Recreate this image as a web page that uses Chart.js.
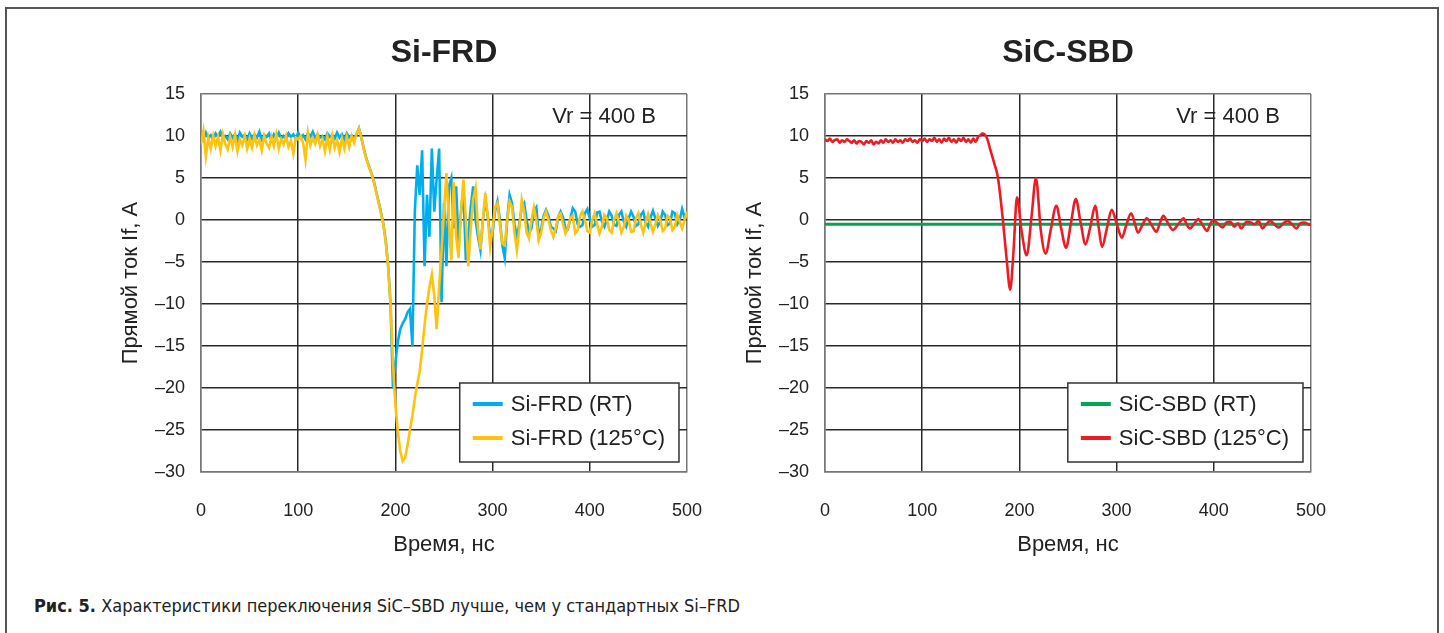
<!DOCTYPE html>
<html lang="ru">
<head>
<meta charset="utf-8">
<title>Si-FRD vs SiC-SBD</title>
<script src="https://cdn.jsdelivr.net/npm/chart.js"></script>
<style>
  html, body { margin: 0; padding: 0; background: #fff; }
  body { width: 1444px; height: 633px; position: relative; overflow: hidden; }
  .frame { position: absolute; left: 5px; top: 7px; width: 1434px; height: 700px; border: 2px solid #555; box-sizing: border-box; }
  .chart { position: absolute; top: 0; }
  #frdBox { left: 0; }
  #sbdBox { left: 624px; }
  .caption { position: absolute; left: 34px; top: 595px; font-family: "Liberation Sans Narrow", "DejaVu Sans Condensed", "Liberation Sans", sans-serif; font-size: 18px; color: #222; white-space: nowrap; }
  .caption b { font-weight: 700; }
</style>
</head>
<body>
<div class="frame"></div>
<div class="chart" id="frdBox"><canvas id="frdChart" width="730" height="572"></canvas></div>
<div class="chart" id="sbdBox"><canvas id="sbdChart" width="730" height="572"></canvas></div>
<div class="caption"><b>Рис. 5.</b> Характеристики переключения SiC–SBD лучше, чем у стандартных Si–FRD</div>
<script>
// time grid for the Si-FRD scope traces, 2.5 ns per sample
const frdTime = Array.from({ length: 201 }, (_, i) => i * 2.5);

// Si-FRD (RT), A
const frdRT = [
  10.2, 9.6, 10.4, 9.8, 10.1, 9.5, 10.3, 9.9, 10.5, 9.7, 10.0, 9.6, 10.3, 9.8, 10.2, 9.5, 10.4, 9.9, 10.1, 9.6,
  10.3, 9.7, 10.2, 9.8, 10.5, 9.6, 10.1, 9.9, 10.3, 9.5, 10.2, 9.8, 10.4, 9.7, 10.0, 9.6, 10.3, 9.9, 10.2, 9.7,
  10.4, 9.8, 10.1, 9.6, 10.3, 9.9, 10.5, 9.7, 10.2, 9.8, 10.0, 9.6, 10.3, 9.9, 10.1, 9.7, 10.4, 9.8, 10.2, 9.6,
  10.3, 9.8, 10.1, 9.7, 10.2, 10.9, 9.8, 8.5, 7.4, 6.5, 5.7, 4.8, 3.5, 2.3, 1.0, -0.4, -2.4, -5.4, -10, -20,
  -17, -14.5, -13, -12.3, -11.8, -11, -10.6, -15, 1, 6.5, 3, 8.3, -5.5, 3, -2, 8.5, 1, 5, 8.5, -9.8,
  2, -5.5, 4, 5, -1, 4, -3, 1, 3.5, -4.8, -2, 1.5, 4, 0, -2, -3.6, 0, 2.4, 0.5, -2,
  -1.5, 1, 2.2, 0, -3, -4.5, 0, 3, 2, -0.5, -2, -0.5, 1.5, 2, 0, -1.5, -1, 1, 1.5, -2,
  -1, 0.5, 1.2, 0.5, -0.8, -1, -1.3, 0.3, 1, 0.3, -1, -1.1, 0.2, 1.4, 1, -0.5, -0.8, -0.6, 0.8, 1.3,
  0.2, -0.8, -0.6, 0.9, 1, -0.2, -0.8, 0, 1, 0.5, -0.6, -0.7, 0.6, 1, -0.2, -0.8, 0.2, 1, 0.4, -0.7,
  -0.5, 0.6, 1, -0.3, -0.8, 0.3, 1.1, 0.2, -0.7, -0.2, 1, 0.6, -0.6, -0.4, 1, 0.8, -0.5, 0, 1.3, 0.3, 0.5
];

// Si-FRD (125°C), A
const frd125 = [
  9.0, 10.6, 7.6, 9.8, 8.5, 10.0, 8.8, 9.9, 8.3, 10.2, 9.0, 8.4, 9.9, 8.7, 10.1, 8.2, 9.6, 8.9, 10.0, 8.5,
  9.7, 8.6, 10.1, 8.9, 9.5, 8.3, 10.0, 9.1, 8.6, 9.9, 8.8, 10.2, 8.5, 9.6, 9.0, 10.0, 8.7, 9.4, 7.9, 9.8,
  9.6, 10.0, 9.2, 7.2, 10.4, 8.9, 9.8, 9.1, 10.2, 8.8, 9.6, 8.2, 9.9, 8.4, 10.1, 8.6, 9.5, 8.1, 9.7, 8.5,
  9.9, 8.7, 10.0, 9.2, 10.3, 10.9, 9.8, 8.4, 7.3, 6.4, 5.6, 4.7, 3.4, 2.2, 0.9, -0.5, -2.5, -5.5, -10, -17,
  -22, -25.2, -27.5, -28.7, -28.3, -26.8, -25, -23.3, -21.2, -19.5, -18, -15.5, -12.5, -10, -8, -6.5, -9, -13, -8, -3.6,
  1, 5.6, 0, -4.8, 4.5, -2, -4.5, 1, 4.8, 0, -5.5, -1, 2.5, 3.8, -1, -3.5, 0, 3.2, 0.5, -3.2,
  -1, 1.5, 2, -0.5, -2.8, -3, 0, 2.2, 1.5, -1.5, -3.6, -1, 2.4, 1, -1.5, -2.2, 0, 1.5, 0, -2.4,
  -1.5, 0.2, 1, 0, -1.2, -2, -1, 0.5, 0.8, -0.5, -1.6, -1, 0.3, 0.5, -1.6, -1.2, 0.5, 1, 0, -1.3,
  -1.5, 0, 0.8, -0.5, -1.6, -0.8, 0.6, 0.2, -1.2, -1.5, 0, 0.8, -0.3, -1.5, -0.8, 0.5, 0, -1.4, -1.3, 0.2,
  0.8, -0.5, -1.5, -0.3, 0.7, -0.4, -1.4, -0.5, 0.6, 0, -1.3, -1, 0.5, 0.2, -1.2, -0.8, 0.6, -0.2, -1, 0, 1
];

// SiC-SBD (RT): flat line
const sbdRtTime = [0, 500];
const sbdRt = [-0.5, -0.5];

// SiC-SBD (125°C): noisy plateau, then ringing read at its turning points
const sbdHotTime = [
  0, 2.5, 5, 7.5, 10, 12.5, 15, 17.5, 20, 22.5,
  25, 27.5, 30, 32.5, 35, 37.5, 40, 42.5, 45, 47.5,
  50, 52.5, 55, 57.5, 60, 62.5, 65, 67.5, 70, 72.5,
  75, 77.5, 80, 82.5, 85, 87.5, 90, 92.5, 95, 97.5,
  100, 102.5, 105, 107.5, 110, 112.5, 115, 117.5, 120, 122.5,
  125, 127.5, 130, 132.5, 135, 137.5, 140, 142.5, 145, 147.5,
  150, 152.5, 155, 157.5, 160,
  162, 166.5, 170, 174, 178, 183, 187, 190.5, 194, 197.5,
  202.5, 207.5, 212.5, 217, 222, 227, 232.5, 238, 243, 248,
  253, 258, 263, 268, 273, 278, 281.5, 285, 290, 295,
  300, 305.5, 310, 315, 318.5, 322, 326.5, 331, 336, 341,
  344.5, 348, 353, 358, 363.5, 369, 372, 375.5, 380, 384,
  388.5, 393, 396, 399, 404, 409, 413, 417, 421, 425,
  428, 434, 438, 442, 446, 450, 454, 458, 463, 467,
  471.5, 476, 480.5, 485, 489, 493, 497, 500
];
const sbdHot = [
  9.6, 9.4, 9.7, 9.3, 9.5, 9.6, 9.2, 9.5, 9.3, 9.6,
  9.4, 9.2, 9.5, 9.1, 9.4, 9.3, 9.0, 9.4, 9.2, 9.5,
  9.0, 9.3, 9.1, 9.5, 9.2, 9.6, 9.3, 9.5, 9.2, 9.6,
  9.3, 9.5, 9.2, 9.6, 9.4, 9.7, 9.3, 9.5, 9.2, 9.6,
  9.4, 9.7, 9.3, 9.6, 9.4, 9.8, 9.3, 9.6, 9.2, 9.7,
  9.4, 9.8, 9.3, 9.6, 9.2, 9.7, 9.4, 9.8, 9.3, 9.6,
  9.2, 9.7, 9.3, 9.9, 10.1,
  10.3, 9.8, 8.4, 6.8, 5.0, 0, -4.8, -8.3, -3.6, 2.7,
  -1.5, -4.2, 0.4, 5, -1.2, -4, -1, 1.7, -1, -3.3,
  -0.4, 2.5, -0.3, -2.9, -0.8, 1.7, -0.8, -3.2, -1, 1.2,
  -0.4, -2.1, -0.6, 0.8, -0.3, -1.5, -0.6, 0.2, -0.6, -1.4,
  -0.4, 0.5, -0.4, -1.2, -0.5, 0.2, -0.5, -1.0, -0.4, 0.1,
  -0.6, -1.3, -0.6, 0, -0.4, -0.9, -0.3, -0.2, -0.8, -0.4,
  -1.0, -0.2, -0.3, -0.5, -0.1, -1.0, -0.5, -0.1, -0.6, -0.9,
  -0.4, -0.1, -0.5, -1.0, -0.4, -0.3, -0.5, -0.6
];

const xTicks = [0, 100, 200, 300, 400, 500];
const yTicks = [-30, -25, -20, -15, -10, -5, 0, 5, 10, 15];

const FONT = '"Liberation Sans", Arial, sans-serif';
const points = (xs, ys) => xs.map((x, i) => ({ x, y: ys[i] }));

// legend drawn as a framed box in the lower right corner of the plot
const boxLegend = {
  id: "boxLegend",
  afterDatasetsDraw(chart) {
    const { ctx, chartArea } = chart;
    const items = chart.data.datasets;
    ctx.save();
    ctx.font = `22px ${FONT}`;
    const textW = Math.max(...items.map(d => ctx.measureText(d.label).width));
    const w = 13 + 30 + 8 + textW + 14;
    const h = 79;
    const x = chartArea.right - 8 - w;
    const y = chartArea.bottom - 10 - h;
    ctx.fillStyle = "#fff";
    ctx.fillRect(x, y, w, h);
    ctx.strokeStyle = "#333";
    ctx.lineWidth = 1.5;
    ctx.strokeRect(x, y, w, h);
    items.forEach((d, i) => {
      const ly = y + 21 + i * 34;
      ctx.strokeStyle = d.borderColor;
      ctx.lineWidth = 4;
      ctx.beginPath();
      ctx.moveTo(x + 13, ly);
      ctx.lineTo(x + 43, ly);
      ctx.stroke();
      ctx.fillStyle = "#222";
      ctx.textBaseline = "middle";
      ctx.fillText(d.label, x + 51, ly + 1);
    });
    ctx.restore();
  }
};

// "Vr = 400 В" note in the upper right corner
const vrNote = {
  id: "vrNote",
  afterDatasetsDraw(chart, args, opts) {
    const { ctx, chartArea } = chart;
    ctx.save();
    ctx.font = `22px ${FONT}`;
    ctx.fillStyle = "#222";
    ctx.textAlign = "right";
    ctx.textBaseline = "middle";
    ctx.fillText(opts.text, chartArea.right - 31, chartArea.top + 23);
    ctx.restore();
  }
};

function makeChart(id, title, datasets) {
  const edge = "#777";
  const grid = "#2a2a2a";
  return new Chart(document.getElementById(id), {
    type: "line",
    data: { datasets },
    plugins: [boxLegend, vrNote],
    options: {
      responsive: false,
      animation: false,
      layout: { padding: { left: 114, right: 14, top: 0, bottom: 10 } },
      elements: { point: { radius: 0 } },
      plugins: {
        legend: { display: false },
        tooltip: { enabled: false },
        title: {
          display: true,
          text: title,
          fullSize: false,
          color: "#222",
          font: { family: FONT, size: 32, weight: "bold" },
          padding: { top: 34, bottom: 21.6 }
        },
        vrNote: { text: "Vr = 400 В" }
      },
      scales: {
        x: {
          type: "linear",
          min: 0,
          max: 500,
          afterBuildTicks: s => { s.ticks = xTicks.map(v => ({ value: v })); },
          afterFit: s => { s.height = 90; },
          ticks: { color: "#222", padding: 28, font: { family: FONT, size: 18 } },
          grid: {
            drawTicks: false,
            lineWidth: 1.5,
            color: c => (c.tick && (c.tick.value === 0 || c.tick.value === 500) ? edge : grid)
          },
          border: { color: edge, width: 1.5 },
          title: {
            display: true,
            text: "Время, нс",
            color: "#222",
            font: { family: FONT, size: 22 },
            padding: { top: 4, bottom: 4 }
          }
        },
        y: {
          min: -30,
          max: 15,
          afterBuildTicks: s => { s.ticks = yTicks.map(v => ({ value: v })); },
          afterFit: s => { s.width = 87; },
          ticks: {
            color: "#222",
            padding: 16,
            font: { family: FONT, size: 18 },
            callback: v => (v < 0 ? "\u2013" + Math.abs(v) : String(v))
          },
          grid: {
            drawTicks: false,
            lineWidth: 1.5,
            color: c => (c.tick && (c.tick.value === 15 || c.tick.value === -30) ? edge : grid)
          },
          border: { color: edge, width: 1.5 },
          title: {
            display: true,
            text: "Прямой ток If, А",
            color: "#222",
            font: { family: FONT, size: 22 },
            padding: { top: 4, bottom: 4 }
          }
        }
      }
    }
  });
}

makeChart("frdChart", "Si-FRD", [
  {
    label: "Si-FRD (RT)",
    data: points(frdTime, frdRT),
    borderColor: "#00aeef",
    borderWidth: 2.6,
    tension: 0,
    order: 1
  },
  {
    label: "Si-FRD (125°C)",
    data: points(frdTime, frd125),
    borderColor: "#ffc20e",
    borderWidth: 2.6,
    tension: 0,
    order: 0
  }
]);

makeChart("sbdChart", "SiC-SBD", [
  {
    label: "SiC-SBD (RT)",
    data: points(sbdRtTime, sbdRt),
    borderColor: "#00a651",
    borderWidth: 3,
    order: 1
  },
  {
    label: "SiC-SBD (125°C)",
    data: points(sbdHotTime, sbdHot),
    borderColor: "#ed1c24",
    borderWidth: 2.6,
    cubicInterpolationMode: "monotone",
    order: 0
  }
]);
</script>
</body>
</html>
